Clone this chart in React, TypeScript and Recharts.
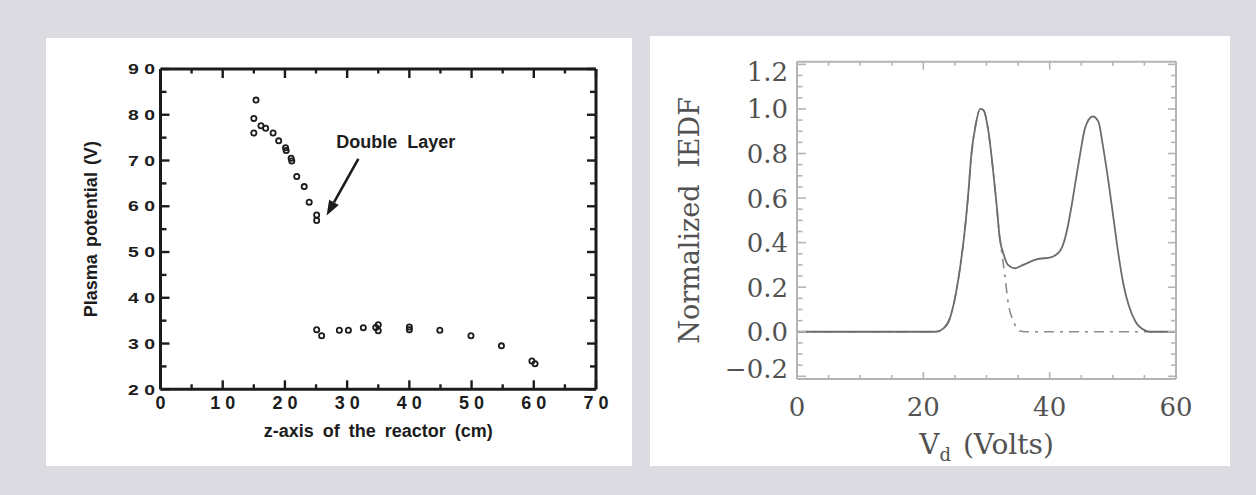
import React from 'react';
import { ScatterChart, Scatter, XAxis, YAxis, ReferenceLine, ReferenceDot, LineChart, Line } from 'recharts';

// ---------- Left chart data: plasma potential vs z ----------
const upperZ = [15.0, 15.0, 15.35, 16.15, 16.9, 18.1, 19.0, 20.1, 20.2, 21.0, 21.1, 21.9, 23.1, 23.9, 25.1, 25.1];
const upperV = [76.0, 79.2, 83.2, 77.6, 77.05, 76.0, 74.3, 72.8, 72.2, 70.5, 69.9, 66.5, 64.3, 60.9, 58.1, 56.9];
const lowerZ = [25.1, 25.9, 28.75, 30.2, 32.6, 34.6, 35.0, 35.0, 40.0, 40.0, 44.9, 49.9, 54.8, 59.7, 60.2];
const lowerV = [33.0, 31.7, 32.9, 32.9, 33.45, 33.5, 34.1, 32.8, 33.6, 33.0, 32.9, 31.7, 29.5, 26.2, 25.6];
const zTicks = [0, 5, 10, 15, 20, 25, 30, 35, 40, 45, 50, 55, 60, 65, 70];
const potTicks = [20, 25, 30, 35, 40, 45, 50, 55, 60, 65, 70, 75, 80, 85, 90];
const arrowStart = { z: 31.8, v: 70.35 };
const arrowTip = { z: 26.7, v: 58.0 };
const annotation = { z: 37.8, v: 74.1, text: 'Double Layer' };

// ---------- Right chart data: normalized IEDF ----------
const measuredVd = [0, 22.0, 23.2, 24.2, 25.0, 25.8, 26.6, 27.1, 27.6, 28.3, 29.0, 29.5, 30.3, 31.0, 31.6, 32.1, 32.8, 33.4, 34.5, 35.8, 37.9, 40.3, 41.4, 41.9, 42.7, 43.5, 44.1, 44.8, 45.6, 46.8, 47.7, 48.4, 49.3, 50.1, 50.9, 51.7, 52.5, 53.6, 55.1, 55.9, 60];
const measuredF = [0, 0, 0.015, 0.06, 0.15, 0.285, 0.465, 0.614, 0.794, 0.93, 1.0, 0.995, 0.9, 0.735, 0.57, 0.42, 0.34, 0.3, 0.285, 0.3, 0.325, 0.335, 0.355, 0.375, 0.45, 0.57, 0.675, 0.794, 0.914, 0.966, 0.944, 0.84, 0.675, 0.51, 0.345, 0.21, 0.12, 0.045, 0.006, 0, 0];
const fitVd = [0, 22.0, 23.2, 24.2, 25.0, 25.8, 26.6, 27.1, 27.6, 28.3, 29.0, 29.5, 30.3, 31.0, 31.6, 32.1, 32.4, 32.9, 33.4, 34.3, 35.3, 36.0, 60];
const fitF = [0, 0, 0.015, 0.06, 0.15, 0.285, 0.465, 0.614, 0.794, 0.93, 1.0, 0.995, 0.9, 0.735, 0.57, 0.42, 0.36, 0.255, 0.135, 0.045, 0.003, 0, 0];
const vdTicks = [0, 5, 10, 15, 20, 25, 30, 35, 40, 45, 50, 55, 60];
const iedfTicks = [-0.2, -0.15, -0.1, -0.05, 0, 0.05, 0.1, 0.15, 0.2, 0.25, 0.3, 0.35, 0.4, 0.45, 0.5, 0.55, 0.6, 0.65, 0.7, 0.75, 0.8, 0.85, 0.9, 0.95, 1.0, 1.05, 1.1, 1.15, 1.2];

const scatterData = upperZ.map((z, i) => ({ z, v: upperV[i] })).concat(lowerZ.map((z, i) => ({ z, v: lowerV[i] })));
const measuredData = measuredVd.map((v, i) => ({ v, f: measuredF[i] }));
const fitData = fitVd.map((v, i) => ({ v, f: fitF[i] }));

const INK = '#1c1c1c';
const SANS = '"Liberation Sans", Arial, Helvetica, sans-serif';
const SERIF = '"DejaVu Serif", "Liberation Serif", serif';
const AX = '#b4b4b4';
const TXT = '#525252';

const spaced = (v: number) => String(v).split('').join(' ');

// ----- left chart ticks -----
const leftBottomTick = (p: any) => {
  const v = p.payload.value;
  const major = v % 10 === 0;
  return (
    <g>
      <line x1={p.x} x2={p.x} y1={p.y} y2={p.y - (major ? 9 : 5)} stroke={INK} strokeWidth={2.4} />
      {major && (
        <text x={p.x} y={p.y + 20} textAnchor="middle" fontSize={18} fontWeight="bold" fontFamily={SANS} fill={INK}>
          {spaced(v)}
        </text>
      )}
    </g>
  );
};
const leftTopTick = (p: any) => {
  const v = p.payload.value;
  const major = v % 10 === 0;
  return <line x1={p.x} x2={p.x} y1={p.y} y2={p.y + (major ? 9 : 4.5)} stroke={INK} strokeWidth={2.4} />;
};
const leftLeftTick = (p: any) => {
  const v = p.payload.value;
  const major = v % 10 === 0;
  return (
    <g>
      <line x1={p.x} x2={p.x + (major ? 9 : 6)} y1={p.y} y2={p.y} stroke={INK} strokeWidth={2.4} />
      {major && (
        <text x={p.x - 32.5} y={p.y + 5.2} textAnchor="start" fontSize={15.5} fontWeight="bold" fontFamily={SANS} fill={INK} textLength={27} lengthAdjust="spacingAndGlyphs">
          {spaced(v)}
        </text>
      )}
    </g>
  );
};
const leftRightTick = (p: any) => {
  const v = p.payload.value;
  const major = v % 10 === 0;
  return <line x1={p.x} x2={p.x - (major ? 9 : 6)} y1={p.y} y2={p.y} stroke={INK} strokeWidth={2.4} />;
};

// ----- right chart ticks -----
const isMajorF = (v: number) => Math.round(v * 100) % 20 === 0;
const rightBottomTick = (p: any) => {
  const v = p.payload.value;
  const major = v % 20 === 0;
  return (
    <g>
      <line x1={p.x} x2={p.x} y1={p.y} y2={p.y - (major ? 7 : 4)} stroke={AX} strokeWidth={1.6} />
      {major && (
        <text x={p.x} y={p.y + 37} textAnchor="middle" fontSize={26} fontFamily={SERIF} fill={TXT}>
          {v}
        </text>
      )}
    </g>
  );
};
const rightTopTick = (p: any) => {
  const v = p.payload.value;
  const major = v % 20 === 0;
  return <line x1={p.x} x2={p.x} y1={p.y} y2={p.y + (major ? 8 : 4)} stroke={AX} strokeWidth={1.6} />;
};
const rightLeftTick = (p: any) => {
  const v = p.payload.value;
  const major = isMajorF(v);
  let nudge = 0;
  if (Math.abs(v - 1.2) < 1e-6) nudge = 7.5;
  if (Math.abs(v + 0.2) < 1e-6) nudge = -8;
  const label = v < 0 ? '\u2212' + Math.abs(v).toFixed(1) : v.toFixed(1);
  return (
    <g>
      <line x1={p.x} x2={p.x + (major ? 9 : 5.5)} y1={p.y} y2={p.y} stroke={AX} strokeWidth={1.6} />
      {major && (
        <text x={p.x - 9} y={p.y + 9.5 + nudge} textAnchor="end" fontSize={26} fontFamily={SERIF} fill={TXT}>
          {label}
        </text>
      )}
    </g>
  );
};
const rightRightTick = (p: any) => {
  const v = p.payload.value;
  const major = isMajorF(v);
  return <line x1={p.x} x2={p.x - (major ? 8 : 5)} y1={p.y} y2={p.y} stroke={AX} strokeWidth={1.6} />;
};

const ArrowShape = (p: any) => {
  const { x1, y1, x2, y2 } = p;
  if ([x1, y1, x2, y2].some((n) => typeof n !== 'number' || isNaN(n))) return <g />;
  const ang = Math.atan2(y2 - y1, x2 - x1);
  const L = 15;
  const W = 5.5;
  const bx = x2 - L * Math.cos(ang);
  const by = y2 - L * Math.sin(ang);
  const px = -Math.sin(ang) * W;
  const py = Math.cos(ang) * W;
  return (
    <g>
      <line x1={x1} y1={y1} x2={bx} y2={by} stroke={INK} strokeWidth={2.6} />
      <polygon points={`${x2},${y2} ${bx + px},${by + py} ${bx - px},${by - py}`} fill={INK} />
    </g>
  );
};

const Ring = (p: any) => <circle cx={p.cx} cy={p.cy} r={2.6} fill="none" stroke={INK} strokeWidth={1.8} />;
const Hidden = () => <g />;

export default function App() {
  return (
    <div style={{ position: 'absolute', left: 0, top: 0, width: 1256, height: 495, background: '#dcdbe1', overflow: 'hidden' }}>
      <div style={{ position: 'absolute', left: 46, top: 38, width: 586, height: 428, background: '#ffffff' }}>
        <ScatterChart width={586} height={428} margin={{ top: 30, right: 35, bottom: 26.7, left: 0.5 }}>
          <XAxis
            xAxisId="b"
            dataKey="z"
            type="number"
            domain={[0, 70]}
            ticks={zTicks}
            interval={0}
            height={50}
            tickSize={0}
            tickMargin={0}
            tickLine={false}
            tick={leftBottomTick}
            axisLine={{ stroke: INK, strokeWidth: 3 }}
            allowDataOverflow
            label={(lp: any) => {
              const vb = lp && lp.viewBox ? lp.viewBox : { x: 114.5, y: 351.3, width: 435.5 };
              return (
                <text x={vb.x + vb.width / 2} y={vb.y + 47.4} textAnchor="middle" fontSize={18} fontWeight="bold" wordSpacing={4} fontFamily={SANS} fill={INK}>
                  z-axis of the reactor (cm)
                </text>
              );
            }}
          />
          <XAxis
            xAxisId="t"
            dataKey="z"
            orientation="top"
            type="number"
            domain={[0, 70]}
            ticks={zTicks}
            interval={0}
            height={1}
            tickSize={0}
            tickMargin={0}
            tickLine={false}
            tick={leftTopTick}
            axisLine={{ stroke: INK, strokeWidth: 3 }}
            allowDataOverflow
          />
          <YAxis
            yAxisId="l"
            dataKey="v"
            type="number"
            domain={[20, 90]}
            ticks={potTicks}
            interval={0}
            width={114}
            tickSize={0}
            tickMargin={0}
            tickLine={false}
            tick={leftLeftTick}
            axisLine={{ stroke: INK, strokeWidth: 3 }}
            allowDataOverflow
            label={(lp: any) => {
              const vb = lp && lp.viewBox ? lp.viewBox : { x: 0.5, y: 31, height: 320.3 };
              const cy = vb.y + vb.height / 2;
              const x = 50.7;
              return (
                <text x={x} y={cy} transform={`rotate(-90, ${x}, ${cy})`} textAnchor="middle" fontSize={18} fontWeight="bold" wordSpacing={2} fontFamily={SANS} fill={INK}>
                  Plasma potential (V)
                </text>
              );
            }}
          />
          <YAxis
            yAxisId="r"
            dataKey="v"
            orientation="right"
            type="number"
            domain={[20, 90]}
            ticks={potTicks}
            interval={0}
            width={1}
            tickSize={0}
            tickMargin={0}
            tickLine={false}
            tick={leftRightTick}
            axisLine={{ stroke: INK, strokeWidth: 3 }}
            allowDataOverflow
          />
          <Scatter xAxisId="t" yAxisId="r" data={scatterData} shape={Hidden} isAnimationActive={false} />
          <Scatter xAxisId="b" yAxisId="l" data={scatterData} shape={Ring} isAnimationActive={false} />
          <ReferenceLine
            xAxisId="b"
            yAxisId="l"
            segment={[
              { x: arrowStart.z, y: arrowStart.v },
              { x: arrowTip.z, y: arrowTip.v },
            ]}
            shape={ArrowShape}
            ifOverflow="visible"
          />
          <ReferenceDot
            xAxisId="b"
            yAxisId="l"
            x={annotation.z}
            y={annotation.v}
            ifOverflow="visible"
            shape={(p: any) => (
              <text x={p.cx} y={p.cy + 6.5} textAnchor="middle" fontSize={18} fontWeight="bold" wordSpacing={5} fontFamily={SANS} fill={INK}>
                {annotation.text}
              </text>
            )}
          />
        </ScatterChart>
      </div>

      <div style={{ position: 'absolute', left: 650, top: 36, width: 580, height: 430, background: '#ffffff' }}>
        <LineChart width={580} height={430} margin={{ top: 24.7, right: 53, bottom: 37, left: 0 }}>
          <XAxis
            xAxisId="b"
            dataKey="v"
            type="number"
            domain={[0, 60]}
            ticks={vdTicks}
            interval={0}
            height={50}
            tickSize={0}
            tickMargin={0}
            tickLine={false}
            tick={rightBottomTick}
            axisLine={{ stroke: AX, strokeWidth: 2 }}
            allowDataOverflow
            label={(lp: any) => {
              const vb = lp && lp.viewBox ? lp.viewBox : { x: 147, y: 343, width: 379 };
              return (
                <text x={vb.x + vb.width / 2} y={vb.y + 75} textAnchor="middle" fontSize={28} fontFamily={SERIF} fill={TXT}>
                  V
                  <tspan fontSize={18} dy={7}>d</tspan>
                  <tspan dy={-7} dx={12}>(Volts)</tspan>
                </text>
              );
            }}
          />
          <XAxis
            xAxisId="t"
            dataKey="v"
            orientation="top"
            type="number"
            domain={[0, 60]}
            ticks={vdTicks}
            interval={0}
            height={1}
            tickSize={0}
            tickMargin={0}
            tickLine={false}
            tick={rightTopTick}
            axisLine={{ stroke: AX, strokeWidth: 2 }}
            allowDataOverflow
          />
          <YAxis
            yAxisId="l"
            type="number"
            domain={[-0.212, 1.212]}
            ticks={iedfTicks}
            interval={0}
            width={147}
            tickSize={0}
            tickMargin={0}
            tickLine={false}
            tick={rightLeftTick}
            axisLine={{ stroke: AX, strokeWidth: 2 }}
            allowDataOverflow
            label={(lp: any) => {
              const vb = lp && lp.viewBox ? lp.viewBox : { x: 0, y: 25.7, height: 317.3 };
              const cy = vb.y + vb.height / 2;
              const x = 49;
              return (
                <text x={x} y={cy} transform={`rotate(-90, ${x}, ${cy})`} textAnchor="middle" fontSize={27} wordSpacing={8} fontFamily={SERIF} fill={TXT}>
                  Normalized IEDF
                </text>
              );
            }}
          />
          <YAxis
            yAxisId="r"
            orientation="right"
            type="number"
            domain={[-0.212, 1.212]}
            ticks={iedfTicks}
            interval={0}
            width={1}
            tickSize={0}
            tickMargin={0}
            tickLine={false}
            tick={rightRightTick}
            axisLine={{ stroke: AX, strokeWidth: 2 }}
            allowDataOverflow
          />
          <Line
            xAxisId="t"
            yAxisId="r"
            data={measuredData}
            dataKey="f"
            type="monotone"
            stroke="none"
            strokeOpacity={0}
            dot={false}
            activeDot={false}
            isAnimationActive={false}
          />
          <Line
            xAxisId="b"
            yAxisId="l"
            data={fitData}
            dataKey="f"
            type="monotone"
            stroke="#8c8c8c"
            strokeWidth={1.6}
            strokeDasharray="10 6 3 6"
            dot={false}
            activeDot={false}
            isAnimationActive={false}
          />
          <Line
            xAxisId="b"
            yAxisId="l"
            data={measuredData}
            dataKey="f"
            type="monotone"
            stroke="#6c6c6c"
            strokeWidth={1.8}
            dot={false}
            activeDot={false}
            isAnimationActive={false}
          />
        </LineChart>
      </div>
    </div>
  );
}
